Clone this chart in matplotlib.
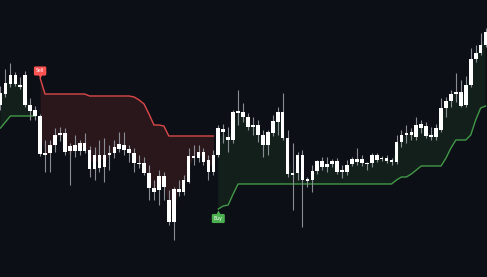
import numpy as np
import matplotlib
matplotlib.use("Agg")
import matplotlib.pyplot as plt

# candle data (arbitrary price units)
opens = [195, 206, 216, 225, 215, 225, 195, 190, 184, 145,
         147, 155, 165, 167, 149, 149, 149, 157, 150, 131,
         145, 133, 145, 147, 151, 155, 151, 147, 137, 137,
         127, 108, 110, 124, 100, 78, 108, 108, 118, 144,
         142, 148, 140, 128, 145, 171, 163, 160, 187, 188,
         183, 175, 175, 165, 155, 167, 178, 188, 162, 127,
         127, 145, 119, 120, 129, 139, 133, 136, 139, 128,
         128, 136, 141, 141, 136, 137, 145, 142, 139, 140,
         138, 158, 165, 168, 163, 176, 174, 163, 163, 170,
         192, 199, 208, 208, 195, 215, 241, 247, 255]
highs = [214, 231, 237, 228, 223, 229, 202, 194, 186, 160,
         160, 172, 173, 172, 157, 165, 160, 167, 154, 153,
         160, 162, 155, 160, 168, 168, 155, 152, 145, 143,
         135, 120, 130, 128, 110, 113, 120, 125, 152, 155,
         155, 152, 145, 150, 175, 176, 173, 190, 210, 197,
         187, 183, 180, 170, 170, 185, 193, 207, 170, 157,
         148, 150, 123, 135, 140, 143, 143, 141, 142, 135,
         140, 143, 152, 145, 138, 147, 147, 144, 145, 142,
         165, 170, 175, 172, 183, 180, 178, 173, 176, 202,
         203, 210, 227, 220, 224, 252, 255, 267, 272]
lows = [190, 203, 213, 214, 211, 193, 180, 180, 144, 128,
        128, 148, 159, 145, 115, 143, 145, 147, 123, 120,
        128, 118, 130, 142, 148, 145, 138, 128, 132, 125,
        100, 100, 95, 100, 75, 60, 104, 105, 117, 135,
        138, 135, 120, 125, 143, 157, 148, 157, 175, 178,
        170, 165, 158, 143, 145, 164, 165, 160, 123, 90,
        120, 73, 113, 108, 126, 130, 128, 133, 126, 122,
        125, 134, 135, 134, 130, 133, 138, 139, 137, 135,
        136, 153, 157, 160, 160, 167, 162, 160, 160, 168,
        183, 193, 198, 193, 193, 213, 238, 245, 253]
closes = [207, 217, 225, 216, 213, 195, 189, 184, 146, 147,
          155, 165, 167, 148, 154, 155, 157, 149, 131, 145,
          132, 145, 147, 153, 156, 150, 147, 137, 136, 127,
          112, 112, 124, 113, 78, 111, 111, 120, 144, 142,
          148, 138, 128, 145, 172, 168, 160, 188, 189, 183,
          173, 173, 165, 155, 168, 179, 188, 162, 126, 125,
          145, 120, 121, 129, 139, 133, 136, 139, 128, 130,
          135, 141, 138, 137, 137, 145, 140, 141, 142, 138,
          158, 165, 167, 165, 175, 172, 164, 165, 172, 192,
          199, 206, 206, 194, 215, 241, 247, 255, 268]

# supertrend line: up (long) and down (short) legs
nan = np.nan
st_up = ([172, 178, 184, 184, 184, 184, 184, 184] + [nan] * 36 +
         [91, 94, 95, 106, 116] + [116] * 31 +
         [120, 123, 123, 126, 130, 134, 134, 134, 134, 134,
          142, 152, 160, 160, 160, 165, 180, 192, 194])
st_dn = ([nan] * 8 +
         [222, 206, 206, 206, 206, 206, 206, 206, 206, 206,
          204, 204, 204, 204, 204, 204, 204, 204, 204, 203,
          200, 196, 186, 175, 175, 174, 164, 164, 164, 164,
          164, 164, 164, 164, 164, 164] + [nan] * 55)

bg = "#0c0f15"
green = "#4caf50"
red = "#ff5252"

o = np.array(opens, float)
h = np.array(highs, float)
l = np.array(lows, float)
c = np.array(closes, float)
up = np.array(st_up, float)
dn = np.array(st_dn, float)
x = np.arange(len(o))
mid = (o + h + l + c) / 4

fig = plt.figure(figsize=(4.87, 2.77), dpi=100)
fig.patch.set_facecolor(bg)
ax = fig.add_axes([0, 0, 1, 1])
ax.set_facecolor(bg)

# highlight fills between line and ohlc4
m_up = ~np.isnan(up)
m_dn = ~np.isnan(dn)
ax.fill_between(x, np.where(m_up, up, mid), mid, where=m_up,
                color=green, alpha=0.1, lw=0)
ax.fill_between(x, np.where(m_dn, dn, mid), mid, where=m_dn,
                color=red, alpha=0.12, lw=0)

ax.plot(x, up, color=green, lw=1.0, alpha=0.85)
ax.plot(x, dn, color=red, lw=1.0, alpha=0.85)

# candles
ax.vlines(x, l, h, color="#8a8d94", lw=0.8, zorder=3)
bot = np.minimum(o, c)
hgt = np.maximum(np.abs(c - o), 1.0)
ax.bar(x, hgt, bottom=bot, width=0.74, color="white", lw=0, zorder=4)

# signal labels
i_sell = 8
ax.plot(i_sell, dn[i_sell] + 2.5, marker="v", ms=3, color=red, mec="none", zorder=5)
ax.text(i_sell, dn[i_sell] + 7, "Sell", ha="center", va="center", fontsize=3.3,
        color="white", zorder=6,
        bbox=dict(boxstyle="round,pad=0.45,rounding_size=0.3", fc=red, ec="none"))
i_buy = 44
ax.plot(i_buy, up[i_buy] - 2.5, marker="^", ms=3, color=green, mec="none", zorder=5)
ax.text(i_buy, up[i_buy] - 9.5, "Buy", ha="center", va="center", fontsize=3.3,
        color="white", zorder=6,
        bbox=dict(boxstyle="round,pad=0.45,rounding_size=0.3", fc=green, ec="none"))

ax.set_xlim(-0.1, 98.28)
ax.set_ylim(23, 300)
ax.axis("off")

fig.savefig("out.png", dpi=100, facecolor=bg)
